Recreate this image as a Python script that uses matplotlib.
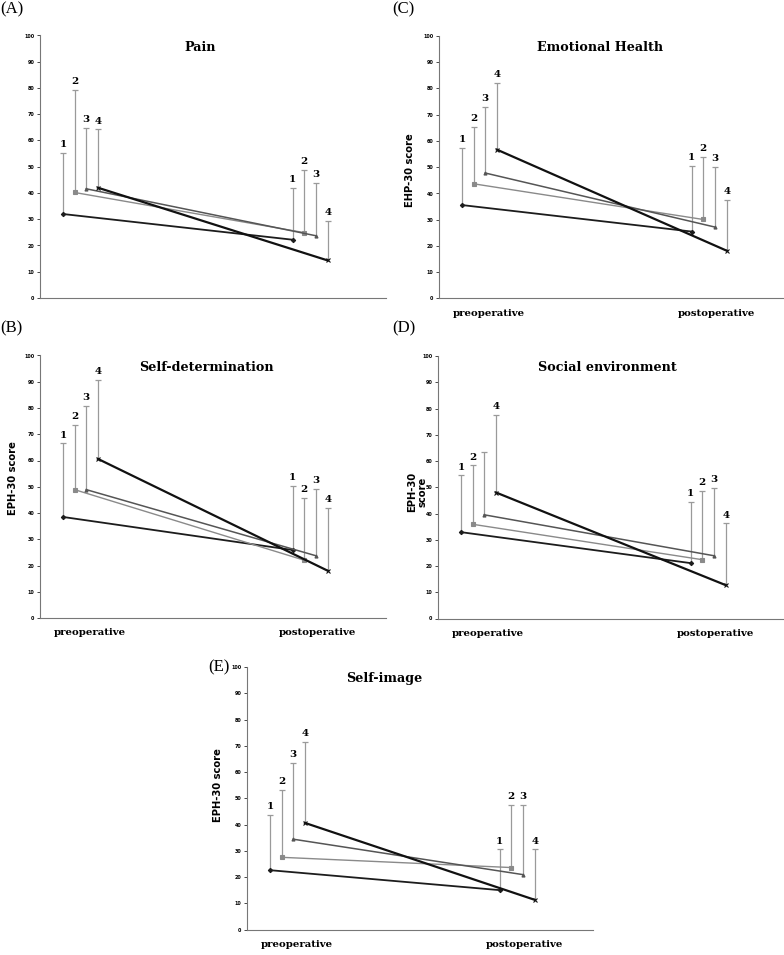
# EHP-30 domain scores before/after surgery for four groups, five panels (A-E).
import numpy as np
import matplotlib
matplotlib.use('Agg')
import matplotlib.pyplot as plt

GROUPS = ['1', '2', '3', '4']
PHASES = ['preoperative', 'postoperative']

# mean scores and upper error-bar ends
pain_pre = [32.0, 40.2, 41.6, 42.0]
pain_post = [22.2, 24.9, 23.7, 14.3]
pain_pre_top = [55.3, 79.1, 64.7, 64.2]
pain_post_top = [42.0, 48.9, 43.9, 29.4]

emo_pre = [35.6, 43.7, 47.8, 56.7]
emo_post = [25.5, 30.1, 27.2, 18.2]
emo_pre_top = [57.2, 65.2, 72.9, 82.0]
emo_post_top = [50.6, 53.9, 50.1, 37.4]

selfdet_pre = [38.5, 48.9, 48.9, 60.6]
selfdet_post = [25.9, 22.0, 23.7, 18.0]
selfdet_pre_top = [66.5, 73.4, 80.9, 90.5]
selfdet_post_top = [50.3, 45.8, 49.0, 41.8]

social_pre = [32.9, 35.9, 39.5, 48.0]
social_post = [21.1, 22.4, 23.9, 12.7]
social_pre_top = [54.5, 58.3, 63.3, 77.5]
social_post_top = [44.3, 48.5, 49.9, 36.2]

image_pre = [22.6, 27.5, 34.4, 40.6]
image_post = [15.0, 23.6, 20.9, 11.3]
image_pre_top = [43.5, 53.3, 63.5, 71.6]
image_post_top = [30.5, 47.3, 47.6, 30.5]

W, H = 784, 955
fig = plt.figure(figsize=(W / 100, H / 100), dpi=100)

def fx(px): return px / W
def fy(py): return 1 - py / H

LINE_COL = ['#1c1c1c', '#8a8a8a', '#555555', '#111111']
LINE_W = [1.3, 1.0, 1.1, 1.6]
MARK = ['D', 's', '^', 'x']
ERR_COL = '#9a9a9a'
OFFS = (np.arange(4) - 1.5) * 0.051
XLIM = (-0.176, 1.33)
SERIF = 'DejaVu Serif'

def panel(left_px, top_px, tag, tag_xy, title, title_x, pre, post, pre_top, post_top,
          ylabel=None, ylabel_xy=None, xlabels=True, skip_labels=()):
    axw, axh = 346, 262.5
    ax = fig.add_axes([fx(left_px), fy(top_px + axh), axw / W, axh / H])
    for g in range(4):
        xs = [0 + OFFS[g], 1 + OFFS[g]]
        ys = [pre[g], post[g]]
        tops = [pre_top[g], post_top[g]]
        ax.vlines(xs, ys, tops, color=ERR_COL, lw=0.9, zorder=1)
        ax.plot(xs, tops, ls='none', marker='_', ms=4, mew=0.9, color=ERR_COL, zorder=1)
        ax.plot(xs, ys, color=LINE_COL[g], lw=LINE_W[g], marker=MARK[g], ms=2.2,
                mew=0.8, zorder=3)
        for k in range(2):
            if (k, g) in skip_labels:
                continue
            ax.text(xs[k], tops[k] + 1.5, GROUPS[g], ha='center', va='bottom',
                    fontsize=7.5, fontweight='bold', family=SERIF)
    ax.set_xlim(*XLIM)
    ax.set_ylim(0, 100)
    ax.set_yticks(range(0, 101, 10))
    ax.tick_params(axis='y', labelsize=3.5, length=2, width=0.5, pad=2)
    for lab in ax.get_yticklabels():
        lab.set_fontweight('bold')
    ax.set_xticks([])
    for s in ('top', 'right'):
        ax.spines[s].set_visible(False)
    for s in ('left', 'bottom'):
        ax.spines[s].set_color('#777777')
        ax.spines[s].set_linewidth(0.8)
    ax.text(title_x, 95.5, title, ha='center', va='center', fontsize=9.2,
            fontweight='bold', family=SERIF)
    if xlabels:
        ax.text(0.04, -0.057, PHASES[0], transform=ax.get_xaxis_transform(),
                ha='center', va='center', fontsize=7.3, fontweight='bold', family=SERIF)
        ax.text(1.03, -0.057, PHASES[1], transform=ax.get_xaxis_transform(),
                ha='center', va='center', fontsize=7.3, fontweight='bold', family=SERIF)
    if ylabel:
        fig.text(fx(ylabel_xy[0]), fy(ylabel_xy[1]), ylabel, rotation=90, ha='center',
                 va='center', fontsize=7.2, fontweight='bold', family='DejaVu Sans',
                 linespacing=1.0)
    fig.text(fx(tag_xy[0]), fy(tag_xy[1]), tag, ha='left', va='center', fontsize=12,
             family='Liberation Serif')
    return ax

panel(40, 35.5, '(A)', (0, 9), 'Pain', 0.52, pain_pre, pain_post, pain_pre_top,
      pain_post_top, xlabels=False)
panel(439, 36, '(C)', (392, 9), 'Emotional Health', 0.527, emo_pre, emo_post,
      emo_pre_top, emo_post_top, ylabel='EHP-30 score', ylabel_xy=(410, 170))
panel(40, 355.5, '(B)', (0, 328), 'Self-determination', 0.55, selfdet_pre, selfdet_post,
      selfdet_pre_top, selfdet_post_top, ylabel='EPH-30 score', ylabel_xy=(13, 478))
panel(438, 356, '(D)', (392, 328), 'Social environment', 0.56, social_pre, social_post,
      social_pre_top, social_post_top, ylabel='EPH-30\nscore', ylabel_xy=(417, 492),
      skip_labels=((0, 2),))
panel(247, 667, '(E)', (208, 667), 'Self-image', 0.42, image_pre, image_post,
      image_pre_top, image_post_top, ylabel='EPH-30 score', ylabel_xy=(218, 785))

fig.savefig('out.png', dpi=100, facecolor='white')
